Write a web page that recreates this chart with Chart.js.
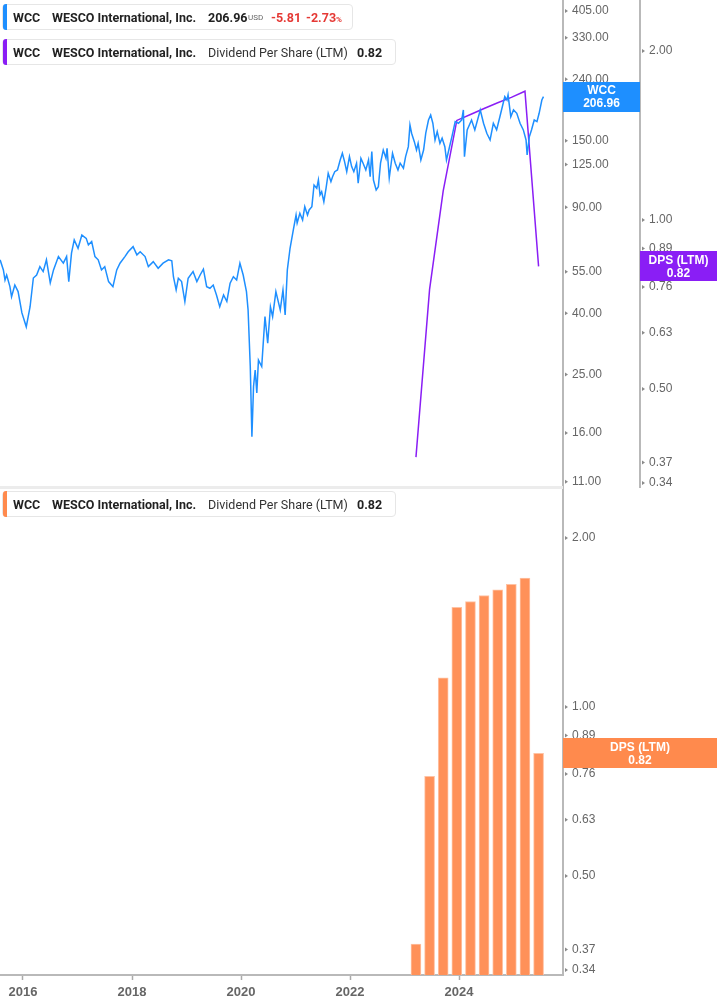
<!DOCTYPE html>
<html>
<head>
<meta charset="utf-8">
<script src="https://cdn.jsdelivr.net/npm/chart.js@4.4.1/dist/chart.umd.min.js"></script>
<style>
  html,body{margin:0;padding:0;background:#fff;}
  body{width:717px;height:1005px;position:relative;overflow:hidden;font-family:Roboto,"Liberation Sans",sans-serif;}
  #top{position:absolute;left:0;top:0;width:717px;height:488px;}
  #bot{position:absolute;left:0;top:488px;width:717px;height:517px;}
  .lg{position:absolute;height:26px;border:1px solid #e6e6e6;border-radius:4px;background:#fff;box-sizing:border-box;}
  .lg i{position:absolute;left:0;top:-1px;bottom:-1px;width:4px;border-radius:3px 0 0 3px;}
  .lg span{position:absolute;top:0;line-height:25px;white-space:nowrap;font-size:12.5px;color:#222;}
  .lg .b{font-weight:700;}
  .lg .n{font-weight:400;color:#333;}
  .lg .s{font-size:8px;color:#666;font-weight:400;}
  .lg .r{font-weight:700;color:#e53935;}
  .lg small{font-size:8px;}
  #sep{position:absolute;left:0;top:486px;width:563px;height:3px;background:#ececec;}
</style>
</head>
<body>
<div id="top"><canvas id="c1" width="717" height="488"></canvas></div>
<div id="bot"><canvas id="c2" width="717" height="517"></canvas></div>
<div id="sep"></div>

<div class="lg" style="left:2px;top:4px;width:351px;">
  <i style="background:#1e8fff"></i>
  <span class="b" style="left:10px">WCC</span>
  <span class="b" style="left:49px">WESCO International, Inc.</span>
  <span class="b" id="lgPrice" style="left:205px"></span>
  <span class="s" style="left:245px">USD</span>
  <span class="r" style="left:268px">-5.81</span>
  <span class="r" style="left:303px">-2.73<small>%</small></span>
</div>
<div class="lg" style="left:2px;top:39px;width:394px;">
  <i style="background:#8a1ef5"></i>
  <span class="b" style="left:10px">WCC</span>
  <span class="b" style="left:49px">WESCO International, Inc.</span>
  <span class="n" style="left:205px">Dividend Per Share (LTM)</span>
  <span class="b lgDps" style="left:354px"></span>
</div>
<div class="lg" style="left:2px;top:491px;width:394px;">
  <i style="background:#ff8a4d"></i>
  <span class="b" style="left:10px">WCC</span>
  <span class="b" style="left:49px">WESCO International, Inc.</span>
  <span class="n" style="left:205px">Dividend Per Share (LTM)</span>
  <span class="b lgDps" style="left:354px"></span>
</div>

<script>
// ---- data (decimal years) ----
const priceDates = [
 2015.58,2015.64,2015.67,2015.70,2015.76,2015.79,2015.85,2015.91,2015.98,2016.06,
 2016.13,2016.19,2016.25,2016.31,2016.37,2016.43,2016.50,2016.56,2016.65,2016.74,
 2016.80,2016.84,2016.89,2016.94,2017.01,2017.08,2017.16,2017.20,2017.26,2017.32,
 2017.38,2017.44,2017.50,2017.57,2017.65,2017.72,2017.78,2017.87,2017.93,2018.02,
 2018.09,2018.15,2018.24,2018.30,2018.39,2018.48,2018.57,2018.67,2018.73,2018.76,
 2018.81,2018.85,2018.91,2018.97,2019.03,2019.12,2019.19,2019.25,2019.31,2019.37,
 2019.43,2019.49,2019.55,2019.61,2019.68,2019.74,2019.80,2019.86,2019.92,2019.98,
 2020.04,2020.10,2020.13,2020.17,2020.20,2020.23,2020.26,2020.29,2020.32,2020.38,
 2020.44,2020.49,2020.54,2020.58,2020.64,2020.72,2020.77,2020.81,2020.85,2020.90,
 2020.96,2021.01,2021.03,2021.08,2021.13,2021.17,2021.22,2021.25,2021.30,2021.34,
 2021.39,2021.42,2021.45,2021.48,2021.52,2021.56,2021.60,2021.65,2021.68,2021.72,
 2021.77,2021.82,2021.86,2021.90,2021.94,2021.99,2022.03,2022.07,2022.12,2022.15,
 2022.20,2022.24,2022.29,2022.34,2022.37,2022.40,2022.43,2022.48,2022.52,2022.56,
 2022.61,2022.66,2022.68,2022.72,2022.78,2022.83,2022.88,2022.92,2022.98,2023.02,
 2023.07,2023.10,2023.13,2023.18,2023.22,2023.25,2023.30,2023.35,2023.39,2023.44,
 2023.48,2023.52,2023.56,2023.60,2023.65,2023.69,2023.74,2023.77,2023.82,2023.87,
 2023.93,2023.99,2024.05,2024.08,2024.10,2024.15,2024.23,2024.29,2024.39,2024.45,
 2024.51,2024.57,2024.63,2024.69,2024.75,2024.84,2024.88,2024.90,2024.95,2025.00,
 2025.06,2025.12,2025.18,2025.23,2025.25,2025.29,2025.33,2025.38,2025.43,2025.47,
 2025.52,2025.55
];
const priceValues = [
 59.3,54.9,50.8,52.8,48.3,44.7,48.9,46.5,39.5,35.5,
 41.4,51.6,52.8,56.3,54.2,59.3,49.7,54.9,60.8,57.8,
 60.8,50.2,62.4,69.1,64.8,71.7,69.9,66.5,68.2,60.8,
 59.3,54.9,56.3,50.2,48.3,54.9,57.8,60.8,63.1,65.6,
 61.6,63.1,60.8,56.3,58.5,55.6,57.8,59.3,58.9,52.1,
 47.1,51.5,50.2,43.1,51.5,54.2,50.2,52.8,55.2,48.3,
 47.7,48.9,45.3,41.4,45.3,43.1,49.6,52.1,50.8,57.8,
 52.8,46.5,40.4,26.2,15.3,22.5,25.5,21.4,27.5,26.2,
 38.4,31.3,41.4,38.4,46.5,40.4,47.1,38.9,54.9,64.8,
 74.6,83.6,78.6,84.7,80.5,89.1,83.6,86.9,89.1,105.2,
 102.6,109.3,97.5,99.9,92.6,102.6,115.1,107.9,112.1,116.5,
 118.0,127.4,134.2,125.8,116.5,130.7,121.1,116.5,124.3,106.6,
 129.1,124.3,118.0,127.4,112.1,135.8,109.3,101.3,103.9,124.3,
 137.5,129.1,139.4,111.0,134.2,124.3,118.0,124.3,119.6,130.7,
 141.1,166.6,156.4,146.6,137.5,144.8,127.4,137.5,156.4,173.1,
 179.8,168.8,148.5,158.3,144.8,150.5,141.1,127.4,139.4,152.3,
 170.9,168.8,173.1,186.9,130.7,160.4,173.1,160.4,186.9,168.8,
 156.4,148.5,168.8,160.4,177.5,206.9,201.7,209.6,177.5,186.9,
 182.2,168.8,160.4,148.5,132.4,152.3,160.4,173.1,170.9,182.2,
 201.7,206.96
];
const dpsDates  = [2023.21,2023.46,2023.71,2023.96,2024.21,2024.46,2024.71,2024.96,2025.21,2025.46];
const dpsValues = [0.375,0.746,1.118,1.492,1.529,1.567,1.604,1.640,1.682,0.82];
const priceTicks = [11,16,25,40,55,90,125,150,240,330,405];
const dpsTicks   = [0.34,0.37,0.50,0.63,0.76,0.89,1.00,2.00];
const yearTicks  = [2016,2018,2020,2022,2024];

const lastPrice = priceValues[priceValues.length-1];
const lastDps = dpsValues[dpsValues.length-1];
document.getElementById('lgPrice').textContent = lastPrice.toFixed(2);
document.querySelectorAll('.lgDps').forEach(e=>e.textContent = lastDps.toFixed(2));

const BLUE = '#1e8fff', PURPLE = '#8a1ef5', ORANGE = '#ff8a4d', BAR = '#ff9159';
const X_MIN = 2015.578, X_MAX = 2025.908;
const tickFont = {family:'"Liberation Sans", Arial, sans-serif', size:12};
const tickColor = '#666';
const axisLine = {display:true, color:'#b9b9b9', width:2};

const toXY = (xs, ys) => xs.map((x,i)=>({x:x, y:ys[i]}));

function logAxis(ticksArr, min, max, width, weight){
  return {
    type:'logarithmic', position:'right', min:min, max:max, weight:weight, bounds:'data',
    afterBuildTicks: s => { s.ticks = ticksArr.map(v=>({value:v})); s.min = min; s.max = max; },
    afterFit: s => { s.width = width; s.paddingTop = 0; s.paddingBottom = 0; },
    grid:{drawOnChartArea:false, drawTicks:true, tickLength:4, tickColor:'rgba(0,0,0,0)', tickWidth:1},
    border: axisLine,
    ticks:{font:tickFont, color:tickColor, padding:5, labelOffset:2, autoSkip:false, callback:v=>Number(v).toFixed(2)}
  };
}

// small triangular tick markers on the value axes
const markerPlugin = {
  id:'markers',
  afterDraw(chart){
    const ctx = chart.ctx;
    Object.values(chart.scales).forEach(sc=>{
      if (sc.axis !== 'y') return;
      ctx.save();
      ctx.fillStyle = '#8a8a8a';
      sc.ticks.forEach(t=>{
        const y = sc.getPixelForValue(t.value) + 2;
        const x = sc.left + 2;
        ctx.beginPath();
        ctx.moveTo(x, y-2); ctx.lineTo(x+3, y); ctx.lineTo(x, y+2); ctx.closePath();
        ctx.fill();
      });
      ctx.restore();
    });
  }
};

const tagPlugin = {
  id:'tags',
  afterDraw(chart, args, opts){
    const ctx = chart.ctx;
    (opts.items||[]).forEach(it=>{
      const sc = chart.scales[it.axis];
      const yc = sc.getPixelForValue(it.value);
      const x0 = sc.left, x1 = sc.right;
      ctx.save();
      ctx.fillStyle = it.color;
      ctx.fillRect(x0, Math.round(yc-15), x1-x0, 30);
      ctx.fillStyle = '#fff';
      ctx.font = 'bold 12px "Liberation Sans", Arial, sans-serif';
      ctx.textAlign = 'center';
      ctx.textBaseline = 'middle';
      ctx.fillText(it.label, (x0+x1)/2, yc-6);
      ctx.fillText(it.value.toFixed(2), (x0+x1)/2, yc+7);
      ctx.restore();
    });
  }
};

new Chart(document.getElementById('c1'), {
  type:'line',
  data:{datasets:[
    {data:toXY(priceDates, priceValues), yAxisID:'yP', borderColor:BLUE, borderWidth:1.5, pointRadius:0, tension:0},
    {data:toXY(dpsDates, dpsValues), yAxisID:'yD', borderColor:PURPLE, borderWidth:1.5, pointRadius:0, tension:0}
  ]},
  options:{
    responsive:false, animation:false, devicePixelRatio:1,
    layout:{padding:0},
    plugins:{legend:{display:false}, tooltip:{enabled:false},
      tags:{items:[{axis:'yP', value:lastPrice, label:'WCC', color:BLUE},
                   {axis:'yD', value:lastDps, label:'DPS (LTM)', color:PURPLE}]}},
    scales:{
      x:{type:'linear', min:X_MIN, max:X_MAX, display:false},
      yP: logAxis(priceTicks, 10.33, 433.9, 77, 0),
      yD: logAxis(dpsTicks, 0.3304, 2.445, 77, 1)
    }
  },
  plugins:[markerPlugin, tagPlugin]
});

new Chart(document.getElementById('c2'), {
  type:'bar',
  data:{datasets:[
    {data:toXY(dpsDates, dpsValues), yAxisID:'y', backgroundColor:BAR, borderColor:'#ffc2a3', borderWidth:{top:1,left:1,right:1,bottom:0}, borderSkipped:false, barThickness:10, grouped:false}
  ]},
  options:{
    responsive:false, animation:false, devicePixelRatio:1,
    layout:{padding:0},
    plugins:{legend:{display:false}, tooltip:{enabled:false},
      tags:{items:[{axis:'y', value:lastDps, label:'DPS (LTM)', color:ORANGE}]}},
    scales:{
      x:{type:'linear', min:X_MIN, max:X_MAX, offset:false,
         afterBuildTicks: s => { s.ticks = yearTicks.map(v=>({value:v})); },
         afterFit: s => { s.height = 30; s.paddingLeft = 0; s.paddingRight = 0; },
         grid:{drawOnChartArea:false, offset:false, tickLength:5, tickColor:'#aaa', tickWidth:1.5},
         border: axisLine,
         ticks:{font:{family:'"Liberation Sans", Arial, sans-serif', size:13, weight:'bold'}, color:'#666', padding:5, autoSkip:false, maxRotation:0, callback:v=>String(v)}},
      y: logAxis(dpsTicks, 0.3304, 2.435, 154, 0)
    }
  },
  plugins:[markerPlugin, tagPlugin]
});
</script>
</body>
</html>
